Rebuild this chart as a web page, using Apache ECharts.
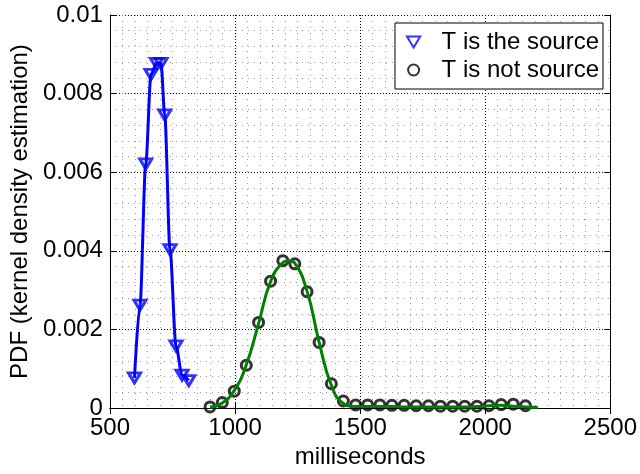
<!DOCTYPE html>
<html>
<head>
<meta charset="utf-8">
<script src="https://cdn.jsdelivr.net/npm/echarts@6/dist/echarts.min.js"></script>
<style>
  html, body { margin: 0; padding: 0; background: #fff; }
  #chart { width: 640px; height: 474px; }
</style>
</head>
<body>
<div id="chart"></div>
<script>
// T is the source (blue triangles + line)
const srcX = [598, 620, 643, 664, 686, 704, 719, 740, 764, 788, 815];
const srcY = [0.00077, 0.00262, 0.00621, 0.00849, 0.00877, 0.00877, 0.00746, 0.00403, 0.00158, 0.00084, 0.00070];

// T is not source (black circles)
const notX = [900, 949, 997, 1045, 1094, 1142, 1191, 1239, 1288, 1336, 1385, 1433, 1482, 1530,
  1579, 1627, 1676, 1724, 1773, 1821, 1870, 1918, 1967, 2015, 2064, 2112, 2161];
const notY = [0.00003, 0.00014, 0.00043, 0.00109, 0.00218, 0.00323, 0.00375, 0.00367, 0.00296, 0.00167,
  0.00062, 0.00018, 0.00008, 0.00008, 0.00008, 0.00007, 0.00007, 0.00006, 0.00006, 0.00005,
  0.00005, 0.00005, 0.00005, 0.00006, 0.00009, 0.00010, 0.00006];

// green density curve
const fitX = [900, 949, 997, 1045, 1094, 1142, 1191, 1215, 1239, 1288, 1336, 1385, 1433,
  1482, 1530, 1579, 1627, 1676, 1724, 1773, 1821, 1870, 1918, 1967, 2015, 2064, 2112, 2161, 2210];
const fitY = [0.00002, 0.00013, 0.00045, 0.00110, 0.00215, 0.00322, 0.00370, 0.00375, 0.00369, 0.00297,
  0.00168, 0.00058, 0.00012,
  0.00004, 0.00004, 0.00004, 0.00004, 0.00003, 0.00003, 0.00003, 0.00003, 0.00003, 0.00003,
  0.00004, 0.00006, 0.00007, 0.00005, 0.00003, 0.00002];

const xTicks = [500, 1000, 1500, 2000, 2500];
const yTicks = [0, 0.002, 0.004, 0.006, 0.008, 0.01];

const zip = (xs, ys) => xs.map((x, i) => [x, ys[i]]);

const font = 'Liberation Sans, Arial, Helvetica, sans-serif';
const chart = echarts.init(document.getElementById('chart'));

const baseX = {
  type: 'value',
  min: xTicks[0],
  max: xTicks[xTicks.length - 1],
  interval: 500,
  axisLine: { show: true, lineStyle: { color: '#000', width: 1 } },
  axisTick: { show: true, inside: true, length: 6, lineStyle: { color: '#000' } },
  minorTick: { show: false, splitNumber: 10 }
};
const baseY = {
  type: 'value',
  min: yTicks[0],
  max: yTicks[yTicks.length - 1],
  interval: 0.002,
  axisLine: { show: true, lineStyle: { color: '#000', width: 1 } },
  axisTick: { show: true, inside: true, length: 6, lineStyle: { color: '#000' } },
  minorTick: { show: false, splitNumber: 5 }
};

chart.setOption({
  animation: false,
  backgroundColor: '#fff',
  grid: { left: 106, right: 29, top: 15, bottom: 55, containLabel: false },
  legend: {
    data: ['T is the source', 'T is not source'],
    orient: 'vertical',
    right: 37,
    top: 23,
    backgroundColor: '#fff',
    borderColor: '#000',
    borderWidth: 1,
    borderRadius: 0,
    padding: [7, 4, 7, 11],
    itemWidth: 46,
    itemHeight: 11,
    itemGap: 4,
    textStyle: { fontFamily: font, fontSize: 24, color: '#000', lineHeight: 24 }
  },
  xAxis: [
    Object.assign({}, baseX, {
      position: 'bottom',
      name: 'milliseconds',
      nameLocation: 'middle',
      nameGap: 31,
      nameTextStyle: { fontFamily: font, fontSize: 24, color: '#000' },
      axisLabel: {
        show: true, margin: 8, fontFamily: font, fontSize: 24, color: '#000',
        formatter: v => String(v)
      },
      splitLine: { show: true, lineStyle: { color: '#000', type: [1, 2], width: 1 } },
      minorSplitLine: { show: true, lineStyle: { color: '#999', type: [1, 5], width: 1 } }
    }),
    Object.assign({}, baseX, {
      position: 'top',
      axisLabel: { show: false },
      splitLine: { show: false }
    })
  ],
  yAxis: [
    Object.assign({}, baseY, {
      position: 'left',
      name: 'PDF (kernel density estimation)',
      nameLocation: 'middle',
      nameGap: 76,
      nameTextStyle: { fontFamily: font, fontSize: 24, color: '#000' },
      axisLabel: {
        show: true, margin: 7, fontFamily: font, fontSize: 24, color: '#000',
        formatter: v => String(+v.toFixed(3))
      },
      splitLine: { show: true, lineStyle: { color: '#000', type: [1, 2], width: 1 } },
      minorSplitLine: { show: true, lineStyle: { color: '#999', type: [1, 5], width: 1 } }
    }),
    Object.assign({}, baseY, {
      position: 'right',
      axisLabel: { show: false },
      splitLine: { show: false }
    })
  ],
  series: [
    {
      name: 'src-line',
      type: 'line',
      data: zip(srcX, srcY),
      smooth: 0.3,
      smoothMonotone: 'x',
      showSymbol: false,
      lineStyle: { color: '#0000ff', width: 3 },
      z: 3
    },
    {
      name: 'T is the source',
      type: 'scatter',
      data: zip(srcX, srcY),
      symbol: 'path://M0,0 L12,0 L6,10 Z',
      symbolSize: [12, 10],
      itemStyle: { color: 'rgba(0,0,0,0)', borderColor: '#0000ff', borderWidth: 3 },
      z: 4
    },
    {
      name: 'T is not source',
      type: 'scatter',
      data: zip(notX, notY),
      symbol: 'circle',
      symbolSize: 10,
      itemStyle: { color: 'rgba(0,0,0,0)', borderColor: '#000', borderWidth: 3 },
      z: 3
    },
    {
      name: 'fit-line',
      type: 'line',
      data: zip(fitX, fitY),
      smooth: 0.5,
      showSymbol: false,
      lineStyle: { color: '#008000', width: 3 },
      z: 4
    }
  ]
});
</script>
</body>
</html>
